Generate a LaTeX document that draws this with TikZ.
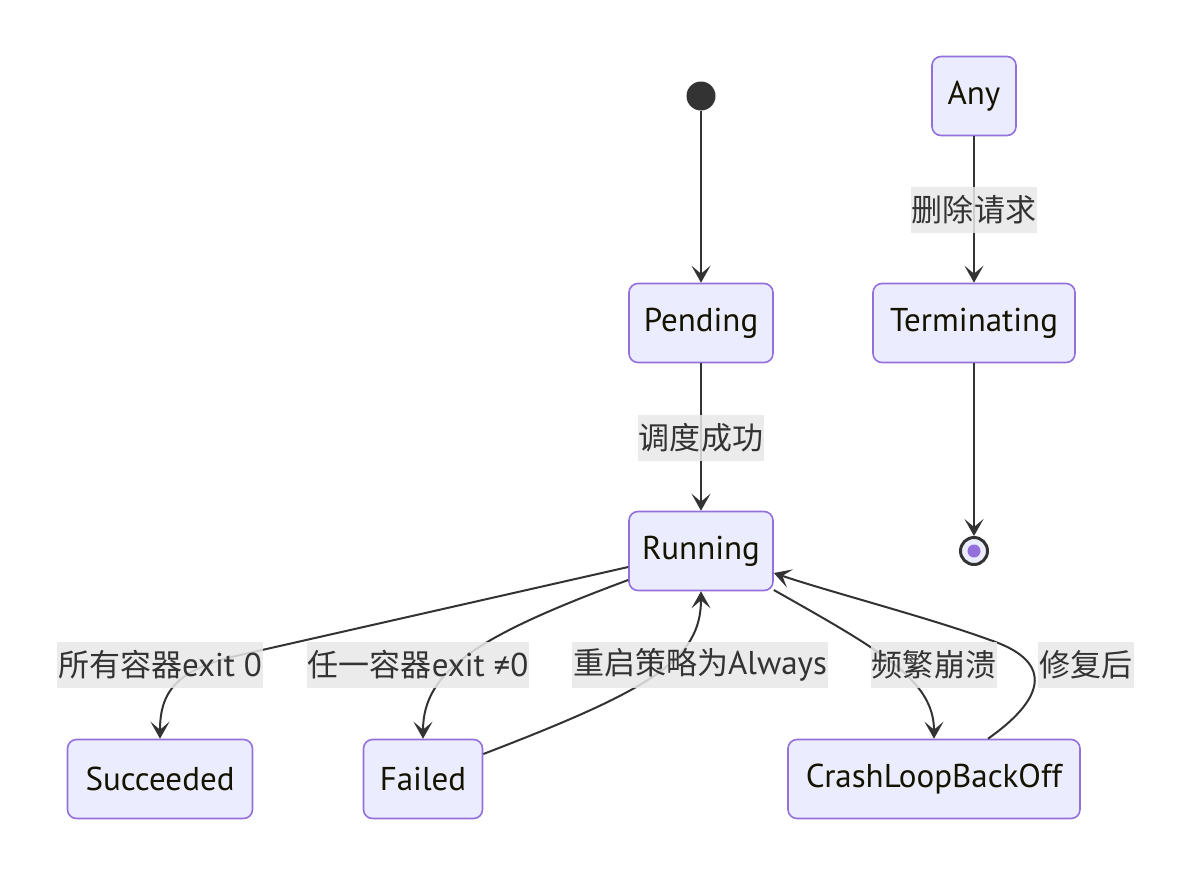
\documentclass[tikz,border=0pt]{standalone}
\usepackage{fontspec}
\setmainfont{PT Sans}
\newfontfamily\cjk{Noto Sans CJK SC}[Scale=0.94]
\usetikzlibrary{arrows.meta}
\definecolor{nodefill}{HTML}{ECECFF}
\definecolor{nodeline}{HTML}{9370DB}
\definecolor{edgecol}{HTML}{333333}
\definecolor{lblbg}{HTML}{E8E8E8}
\definecolor{nodetext}{HTML}{131300}
\tikzset{
  state/.style={draw=nodeline, fill=nodefill, line width=1.6pt, rounded corners=9pt,
    minimum height=79pt, inner sep=0pt, text=nodetext, font=\fontsize{33}{36}\selectfont},
  edge/.style={draw=edgecol, line width=2pt, -{Stealth[length=17pt,width=19pt,inset=8pt]}},
  lbl/.style={fill=lblbg, fill opacity=0.85, text opacity=1, text=edgecol, inner xsep=1pt,
    minimum height=46pt, font=\fontsize{33}{36}\selectfont}
}
\begin{document}
\begin{tikzpicture}[x=1pt,y=-1pt]
\useasboundingbox (0,0) rectangle (1189,876);
% nodes
\node[circle, fill=edgecol, minimum size=29pt, inner sep=0pt] (start) at (701,96) {};
\node[state, minimum width=84pt] (any) at (974,96) {Any};
\node[state, minimum width=144pt] (pending) at (701,323) {Pending};
\node[state, minimum width=202pt] (term) at (974,323) {Terminating};
\node[state, minimum width=144pt] (running) at (701,551) {Running};
\node[circle, draw=edgecol, line width=3pt, fill=nodefill, minimum size=27pt, inner sep=0pt] (end) at (974,551) {};
\fill[nodeline] (end.center) circle (6.5pt);
\node[state, minimum width=185pt] (succ) at (160,779) {Succeeded};
\node[state, minimum width=119pt] (failed) at (423,779) {Failed};
\node[state, minimum width=292pt] (crash) at (934,779) {CrashLoopBackOff};
% edges
\draw[edge] (start) -- (pending);
\draw[edge] (any) -- (term);
\draw[edge] (pending) -- (running);
\draw[edge] (term) -- (end);
\draw[edge] ([yshift=-16pt]running.west) -- (240,655) .. controls (178,669) and (160,690) .. (succ.north);
\draw[edge] ([yshift=-29pt]running.west) .. controls (480,635) and (423,670) .. (failed.north);
\draw[edge] ([yshift=25pt]failed.east) .. controls (650,690) and (701,660) .. (running.south);
\draw[edge] ([yshift=-39pt]running.east) .. controls (880,650) and (934,680) .. (crash.north);
\draw[edge] ([xshift=54pt]crash.north) .. controls (1050,695) and (1050,660) .. (990,640) .. controls (930,618) and (830,592) .. ([yshift=-22pt]running.east);
% labels
\node[lbl] (l1) at (974,210) {\cjk 删除请求};
\node[lbl] (l2) at (701,438) {\cjk 调度成功};
\node[lbl] (l3) at (160,665) {{\cjk 所有容器}exit 0};
\node[lbl] (l4) at (418,665) {{\cjk 任一容器}exit ≠0};
\node[lbl] (l5) at (700,665) {{\cjk 重启策略为}Always};
\node[lbl] (l6) at (934,665) {\cjk 频繁崩溃};
\node[lbl] (l7) at (1086,665) {\cjk 修复后};
\end{tikzpicture}
\end{document}
